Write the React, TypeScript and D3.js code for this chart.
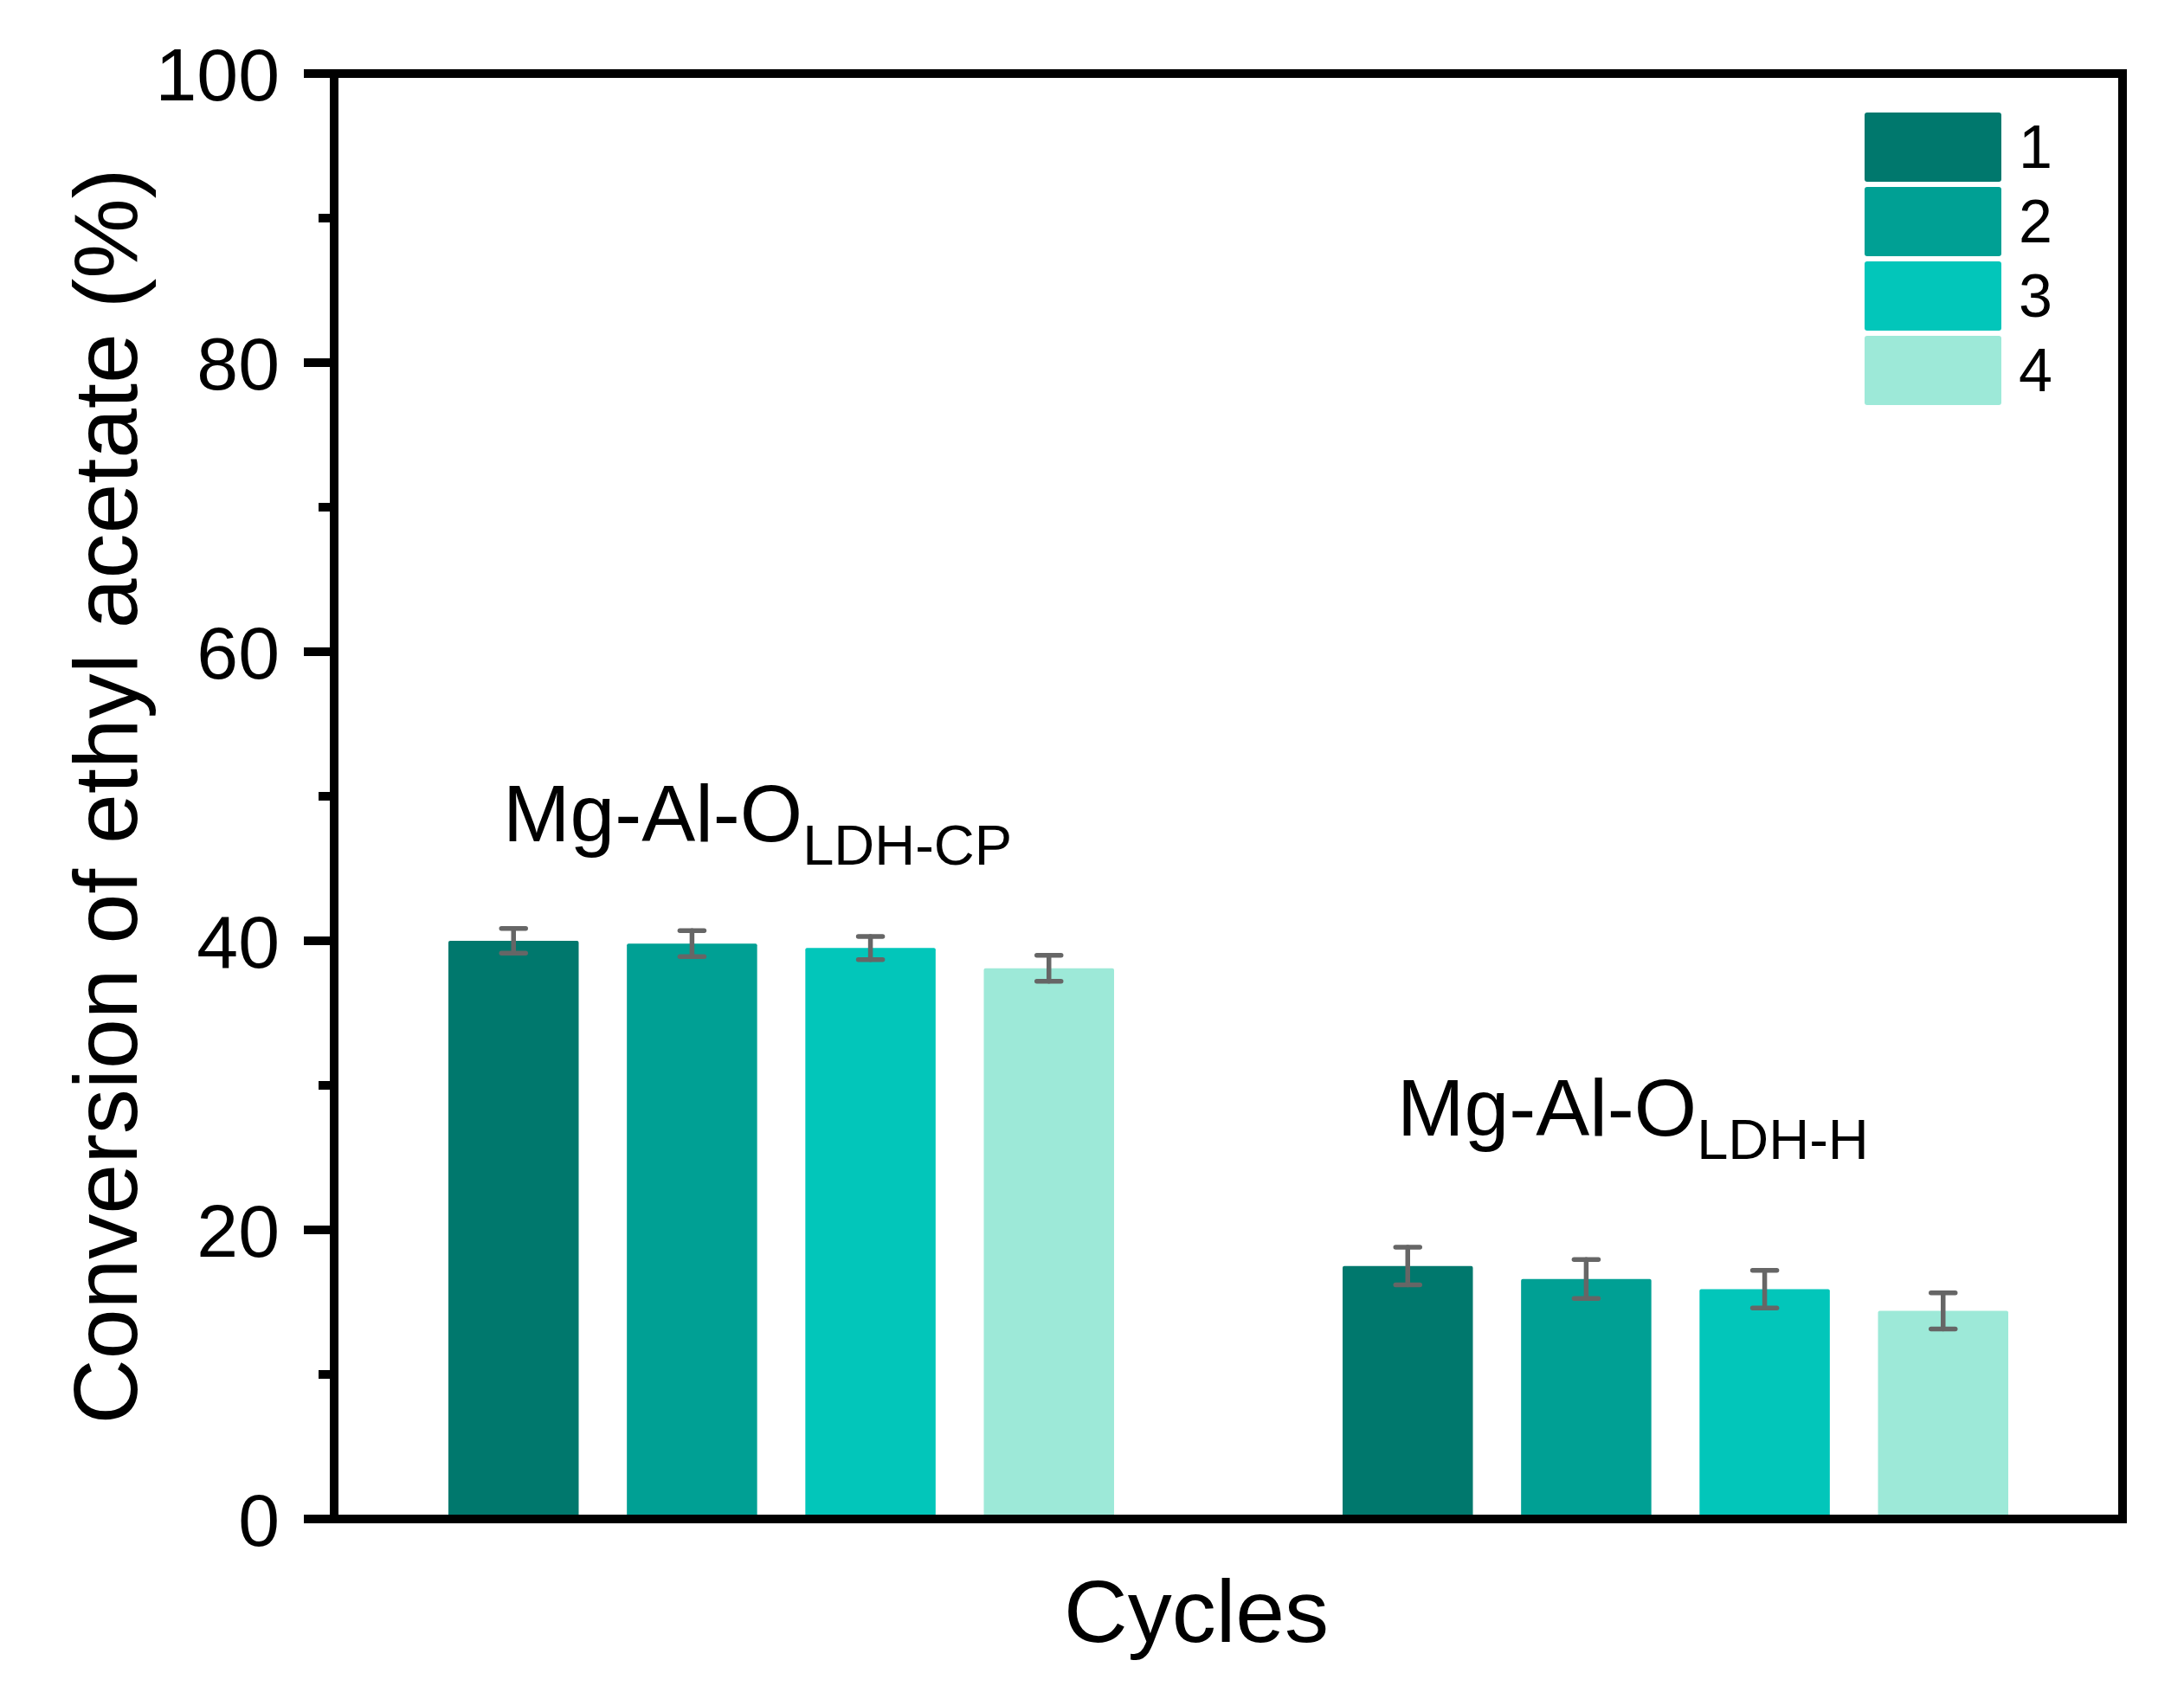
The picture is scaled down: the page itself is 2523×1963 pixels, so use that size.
import React, { useRef, useEffect } from "react";
import * as d3 from "d3";

const groups = ["CP", "H"];
const groupMain = ["Mg-Al-O", "Mg-Al-O"];
const groupSub = ["LDH-CP", "LDH-H"];
const labelY = [46.9, 26.5];
const cycles = ["1", "2", "3", "4"];
const colors = ["#00786D", "#00A094", "#02C6BA", "#9DE9D8"];
const valuesCP = [40.0, 39.8, 39.5, 38.1];
const errorsCP = [0.85, 0.9, 0.8, 0.9];
const valuesH = [17.5, 16.6, 15.9, 14.4];
const errorsH = [1.3, 1.35, 1.3, 1.25];
const yTicks = [0, 20, 40, 60, 80, 100];
const yMinorTicks = [10, 30, 50, 70, 90];

export default function App() {
  const ref = useRef<HTMLDivElement>(null);

  useEffect(() => {
    if (!ref.current) return;
    document.body.style.margin = "0";
    ref.current.innerHTML = "";

    const w = 2523;
    const h = 1963;
    const left = 386, right = 2452, top = 85, bottom = 1755;
    const font = "'Liberation Sans', Arial, sans-serif";

    const svg = d3.select(ref.current)
      .append("svg")
      .attr("width", w)
      .attr("height", h)
      .style("display", "block")
      .style("background", "#fff")
      .style("font-family", font);

    const yScale = d3.scaleLinear().domain([0, 100]).range([bottom, top]);
    const xGroup = d3.scaleBand<string>().domain(groups).range([left, right]).padding(0);
    const xCycle = d3.scaleBand<string>()
      .domain(cycles)
      .range([132, xGroup.bandwidth() - 132])
      .paddingInner(0.27)
      .paddingOuter(0);

    const series = [
      { values: valuesCP, errors: errorsCP },
      { values: valuesH, errors: errorsH },
    ];

    // bars
    series.forEach((s, gi) => {
      const gx = xGroup(groups[gi])!;
      const g = svg.append("g").attr("transform", `translate(${gx},0)`);
      g.selectAll(".bar")
        .data(s.values)
        .enter()
        .append("rect")
        .attr("x", (_, i) => xCycle(cycles[i])!)
        .attr("y", d => yScale(d))
        .attr("width", xCycle.bandwidth())
        .attr("height", d => yScale(0) - yScale(d))
        .attr("rx", 2)
        .attr("fill", (_, i) => colors[i]);

      // error bars
      s.values.forEach((v, i) => {
        const cx = xCycle(cycles[i])! + xCycle.bandwidth() / 2;
        const e = s.errors[i];
        const eg = g.append("g")
          .attr("stroke", "#666666")
          .attr("stroke-width", 5.5)
          .attr("stroke-linecap", "round");
        eg.append("line")
          .attr("x1", cx).attr("x2", cx)
          .attr("y1", yScale(v + e)).attr("y2", yScale(v - e));
        eg.append("line")
          .attr("x1", cx - 14).attr("x2", cx + 14)
          .attr("y1", yScale(v + e)).attr("y2", yScale(v + e));
        eg.append("line")
          .attr("x1", cx - 14).attr("x2", cx + 14)
          .attr("y1", yScale(v - e)).attr("y2", yScale(v - e));
      });

      // group label, left-aligned inside its band
      const t = svg.append("text")
        .attr("x", gx + 195)
        .attr("y", yScale(labelY[gi]))
        .attr("text-anchor", "start")
        .attr("fill", "#000")
        .style("font-size", "93px");
      t.append("tspan").text(groupMain[gi]);
      t.append("tspan")
        .attr("dy", 27)
        .style("font-size", "65px")
        .text(groupSub[gi]);
    });

    // frame
    const axisW = 10;
    svg.append("rect")
      .attr("x", left)
      .attr("y", top)
      .attr("width", right - left)
      .attr("height", bottom - top)
      .attr("fill", "none")
      .attr("stroke", "#000")
      .attr("stroke-width", axisW);

    // y ticks
    svg.selectAll(".ytick")
      .data(yTicks)
      .enter()
      .append("line")
      .attr("x1", left - 35)
      .attr("x2", left)
      .attr("y1", d => yScale(d))
      .attr("y2", d => yScale(d))
      .attr("stroke", "#000")
      .attr("stroke-width", axisW);
    svg.selectAll(".yminor")
      .data(yMinorTicks)
      .enter()
      .append("line")
      .attr("x1", left - 18)
      .attr("x2", left)
      .attr("y1", d => yScale(d))
      .attr("y2", d => yScale(d))
      .attr("stroke", "#000")
      .attr("stroke-width", axisW);
    svg.selectAll(".ylabel")
      .data(yTicks)
      .enter()
      .append("text")
      .attr("x", 323)
      .attr("y", d => yScale(d))
      .attr("dy", "0.36em")
      .attr("text-anchor", "end")
      .style("font-size", "86px")
      .attr("fill", "#000")
      .text(d => String(d));

    // axis titles
    svg.append("text")
      .attr("transform", `translate(158,${(top + bottom) / 2}) rotate(-90)`)
      .attr("text-anchor", "middle")
      .style("font-size", "104px")
      .attr("fill", "#000")
      .text("Conversion of ethyl acetate (%)");
    svg.append("text")
      .attr("x", 1382)
      .attr("y", 1897)
      .attr("text-anchor", "middle")
      .style("font-size", "102px")
      .attr("fill", "#000")
      .text("Cycles");

    // legend
    const legX = 2154;
    const legY = 130;
    const legStep = 86;
    cycles.forEach((c, i) => {
      svg.append("rect")
        .attr("x", legX)
        .attr("y", legY + i * legStep)
        .attr("width", 158)
        .attr("height", 80)
        .attr("rx", 3)
        .attr("fill", colors[i]);
      svg.append("text")
        .attr("x", legX + 178)
        .attr("y", legY + i * legStep + 64)
        .style("font-size", "70px")
        .attr("fill", "#000")
        .text(c);
    });
  }, []);

  return <div ref={ref} />;
}
